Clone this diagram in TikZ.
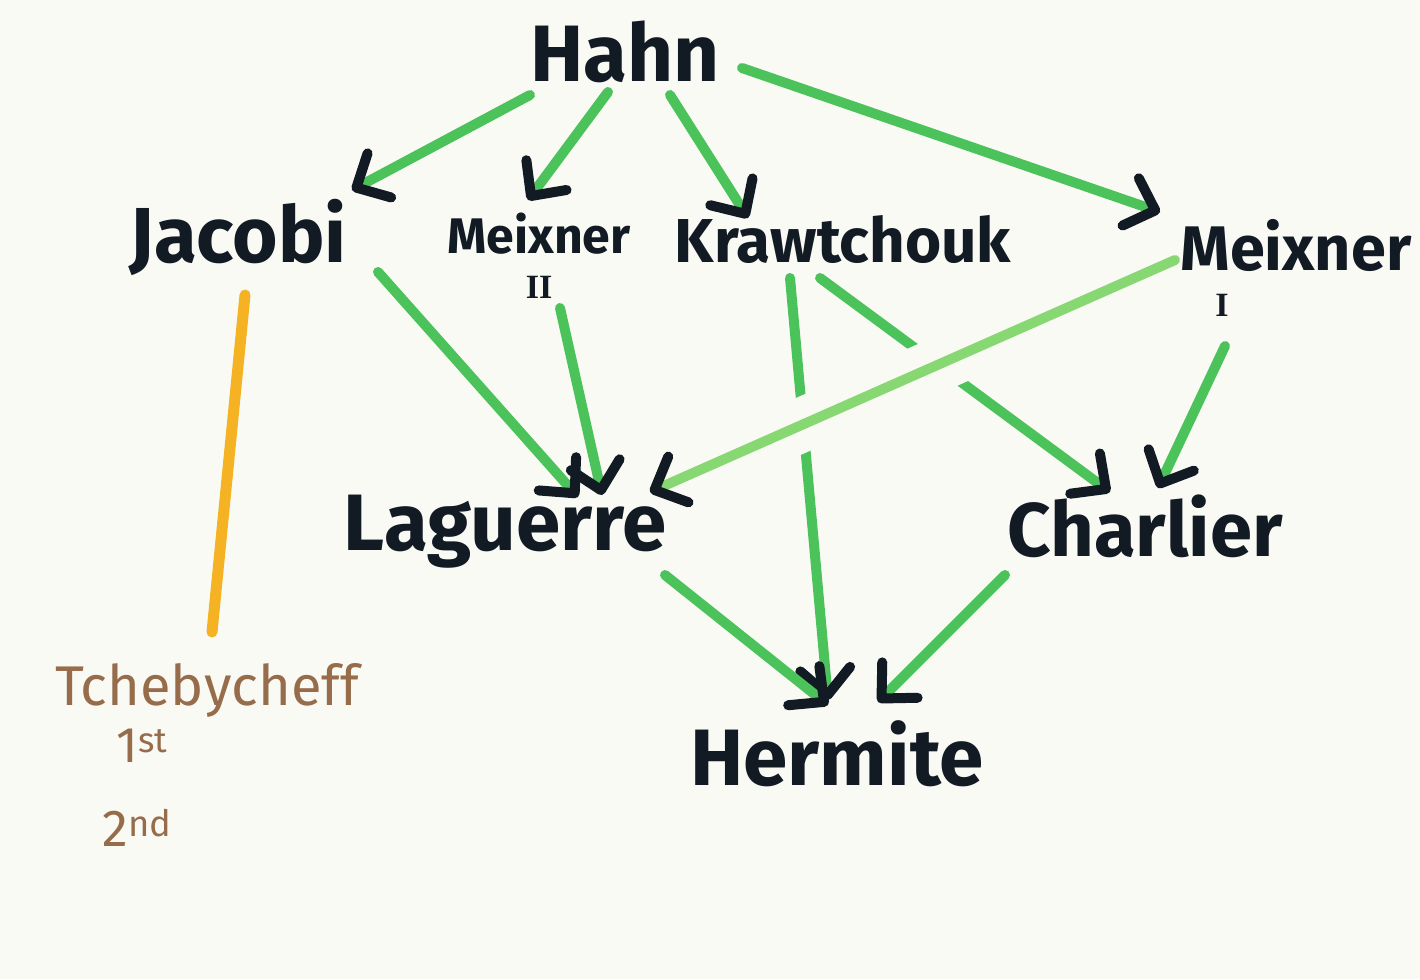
\documentclass[tikz,border=0pt]{standalone}
\usepackage{fontspec}
\setmainfont{Fira Sans}
\newfontfamily\numfont{Liberation Serif}
\usetikzlibrary{arrows.meta, calc}
\definecolor{paper}{RGB}{250,250,245}
\definecolor{marker}{RGB}{75,195,90}
\definecolor{markerlight}{RGB}{135,215,115}
\definecolor{ink}{RGB}{18,26,36}
\definecolor{amber}{RGB}{245,178,35}
\definecolor{sepia}{RGB}{150,108,75}
\tikzset{
  family/.style = {text=ink, inner sep=0pt, anchor=base, font=\bfseries\fontsize{#1}{#1}\selectfont},
  numeral/.style = {text=ink, inner sep=0pt, anchor=base, font=\numfont\bfseries\fontsize{#1}{#1}\selectfont},
  special/.style = {text=sepia, inner sep=0pt, anchor=base, font=\fontsize{#1}{#1}\selectfont},
  link/.style = {draw=marker, line width=10pt, line cap=round,
    -{Straight Barb[color=ink, round, length=26pt, width=50pt, line width=10pt]}},
}
\begin{document}
\begin{tikzpicture}[x=1pt, y=-1pt]
\useasboundingbox[fill=paper] (0,0) rectangle (1420,979);

% families
\node[family=80] (hahn) at (625,82) {Hahn};
\node[family=78] (jacobi) at (238,262) {Jacobi};
\node[family=50] (meixII) at (539,253) {Meixner};
\node[numeral=34] (numII) at (539,298) {II};
\node[family=63] (meixI) at (1296,270) {Meixner};
\node[numeral=34] (numI) at (1222,316) {I};
\node[family=62] (kraw) at (843,262) {Krawtchouk};
\node[family=80] (lag) at (505,550) {Laguerre};
\node[family=76] (charlier) at (1145,556) {Charlier};
\node[family=80] (hermite) at (837,785) {Hermite};

% special cases
\node[special=56] (tcheb) at (207,705) {Tchebycheff};
\node[special=50] (first) at (142,762) {1\textsuperscript{st}};
\node[special=52] (second) at (137,846) {2\textsuperscript{nd}};

% limits from Hahn
\draw[link] ($(hahn.base)+(-95,13)$) -- ($(jacobi.base)+(114,-72)$);
\draw[link] ($(hahn.base)+(-17,10)$) -- ($(meixII.base)+(-11,-53)$);
\draw[link] ($(hahn.base)+(45,13)$) -- ($(kraw.base)+(-95,-44)$);
\draw[link] ($(hahn.base)+(117,-14)$) -- ($(meixI.base)+(-136,-58)$);

% second row
\draw[link] ($(kraw.base)+(-23,16)$) -- ($(charlier.base)+(-35,-64)$);
\draw[link] ($(kraw.base)+(-53,16)$) -- ($(hermite.base)+(-9,-85)$);
\draw[link, draw=markerlight, preaction={draw=paper, -, line width=54pt, shorten <=200pt, shorten >=115pt}]
  ($(meixI.base)+(-121,-10)$) -- ($(lag.base)+(145,-58)$);
\draw[link] ($(jacobi.base)+(140,10)$) -- ($(lag.base)+(73,-53)$);
\draw[link] ($(numII.base)+(21,10)$) -- ($(lag.base)+(97,-55)$);
\draw[link] ($(numI.base)+(3,30)$) -- ($(charlier.base)+(13,-68)$);

% down to Hermite
\draw[link] ($(lag.base)+(160,25)$) -- ($(hermite.base)+(-9,-80)$);
\draw[link] ($(charlier.base)+(-140,19)$) -- ($(hermite.base)+(41,-83)$);

% Jacobi special case
\draw[amber, line width=11pt, line cap=round] ($(jacobi.base)+(7,33)$) -- ($(tcheb.base)+(5,-73)$);
\end{tikzpicture}
\end{document}
